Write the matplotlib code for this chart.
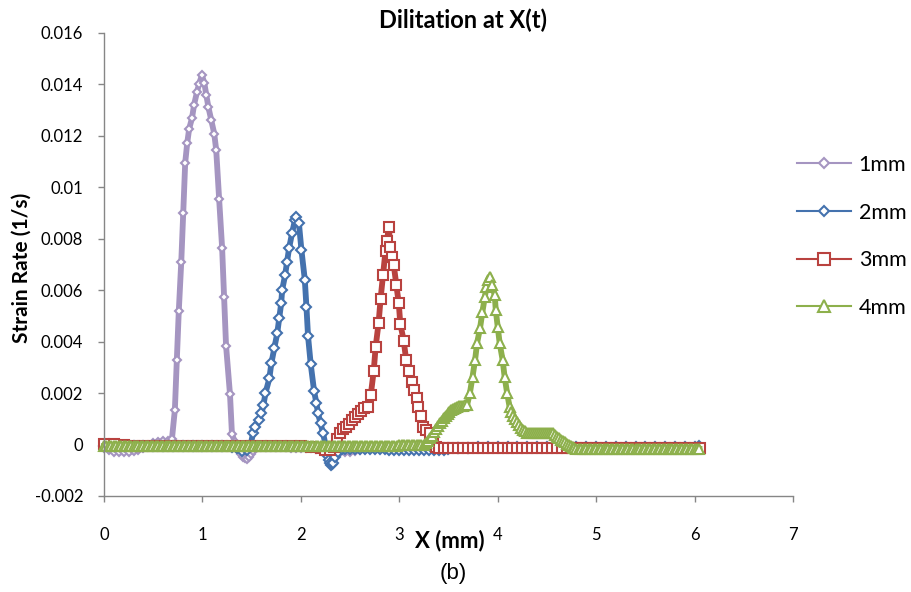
import matplotlib.pyplot as plt
from matplotlib.lines import Line2D
from matplotlib.ticker import MultipleLocator, FuncFormatter

plt.rcParams['font.family'] = ['Lato', 'DejaVu Sans']

# strain rate vs position for each grain size
x_1mm = [0.00, 0.05, 0.10, 0.15, 0.20, 0.25, 0.30, 0.35, 0.40, 0.45, 0.50, 0.55, 0.60, 0.65, 0.69,
         0.72, 0.74, 0.76, 0.785, 0.805, 0.825, 0.845, 0.865, 0.895, 0.915, 0.945, 0.965, 0.995,
         1.02, 1.04, 1.06, 1.09, 1.12, 1.14, 1.17, 1.20, 1.22, 1.24, 1.28, 1.30,
         1.33, 1.35, 1.37, 1.39, 1.41, 1.43, 1.45, 1.47, 1.49, 1.51, 1.53, 1.55,
         1.60, 1.65, 1.70, 1.75, 1.80, 1.85, 1.90, 1.95, 2.00, 2.05, 2.10, 2.15, 2.20, 2.25,
         2.30, 2.35, 2.40, 2.45, 2.50, 2.55, 2.60, 2.65, 2.70,
         2.8, 2.9, 3.0, 3.1, 3.2, 3.3, 3.4, 3.5, 3.6, 3.7, 3.8, 3.9, 4.0, 4.1, 4.2, 4.3, 4.4,
         4.5, 4.6, 4.7, 4.8, 4.9, 5.0, 5.1, 5.2, 5.3, 5.4, 5.5, 5.6, 5.7, 5.8, 5.9, 6.0, 6.05]
y_1mm = [-0.00012, -0.00022, -0.00028, -0.0003, -0.0003, -0.00029, -0.00026, -0.0002, -0.00012,
         -0.00004, 0.00004, 0.0001, 0.00012, 0.00012, 0.0002,
         0.00135, 0.0033, 0.0052, 0.0071, 0.009, 0.01095, 0.0117, 0.01226, 0.0127, 0.0132, 0.0137,
         0.0140, 0.01435,
         0.01403, 0.01357, 0.01312, 0.0126, 0.01208, 0.01144, 0.00952, 0.00764, 0.00574, 0.00384,
         0.00195, 0.0004,
         0.0001, -0.0001, -0.00025, -0.00038, -0.00047, -0.00053, -0.00055, -0.00048, -0.00036,
         -0.00024, -0.00015, -0.0001,
         -0.0001, -0.0001, -0.0001, -0.0001, -0.0001, -0.0001, -0.00012, -0.00012, -0.00014,
         -0.00014, -0.00015, -0.00016, -0.00018, -0.0002,
         -0.00022, -0.00025, -0.00028, -0.0003, -0.00028, -0.00024, -0.0002, -0.00016, -0.00012,
         -0.0001, -0.0001, -0.0001, -0.0001, -0.0001, -0.0001, -0.0001, -0.0001, -0.0001, -0.0001,
         -0.0001, -0.0001, -0.0001, -0.0001, -0.0001, -0.0001, -0.0001,
         -0.0001, -0.0001, -0.0001, -0.0001, -0.0001, -0.0001, -0.0001, -0.0001, -0.0001, -0.0001,
         -0.0001, -0.0001, -0.0001, -0.0001, -0.0001, -0.0001, -0.0001]

x_2mm = [0.0, 0.1, 0.2, 0.3, 0.4, 0.5, 0.6, 0.7, 0.8, 0.9, 1.0, 1.1, 1.2, 1.3,
         1.35, 1.40, 1.45, 1.49,
         1.514, 1.53, 1.575, 1.60, 1.62, 1.64, 1.68, 1.70, 1.73, 1.76, 1.78, 1.80, 1.81, 1.84,
         1.86, 1.88, 1.91, 1.94, 1.955, 1.98,
         2.006, 2.04, 2.057, 2.073, 2.10, 2.134, 2.158, 2.175, 2.20, 2.226, 2.25, 2.26, 2.27,
         2.28, 2.29, 2.30, 2.31, 2.32, 2.33, 2.35, 2.38, 2.42,
         2.45, 2.50, 2.55, 2.60, 2.65, 2.70, 2.75, 2.80, 2.85, 2.90, 2.95, 3.00, 3.05, 3.10,
         3.15, 3.20, 3.25, 3.30, 3.35, 3.40, 3.45, 3.50,
         3.6, 3.7, 3.8, 3.9, 4.0, 4.1, 4.2, 4.3, 4.4, 4.5, 4.6, 4.7, 4.8, 4.9, 5.0, 5.1, 5.2,
         5.3, 5.4, 5.5, 5.6, 5.7, 5.8, 5.9, 6.0, 6.05]
y_2mm = [-0.00005, -0.00005, -0.00005, -0.00005, -0.00005, -0.00005, -0.00005, -0.00005,
         -0.00005, -0.00005, -0.00005, -0.00005, -0.00005, -0.00008,
         -0.00015, -0.00025, -0.00022, 0.0,
         0.00043, 0.00069, 0.00095, 0.00121, 0.00153, 0.00199, 0.00257, 0.00315, 0.00374,
         0.00432, 0.0049, 0.00548, 0.006, 0.00658, 0.0071, 0.00762, 0.0082, 0.00872, 0.00885,
         0.00861,
         0.00755, 0.00641, 0.00533, 0.00421, 0.00313, 0.00209, 0.0016, 0.00121, 0.00082, 0.00043,
         0.0, -0.00015, -0.0003, -0.00045, -0.0006, -0.0007, -0.0008, -0.00075, -0.0007,
         -0.0005, -0.0003, -0.00018,
         -0.00018, -0.00018, -0.00018, -0.00018, -0.00018, -0.00018, -0.00018, -0.00019, -0.00019,
         -0.0002, -0.0002, -0.0002, -0.0002, -0.0002, -0.0002, -0.0002, -0.0002, -0.0002,
         -0.0002, -0.0002, -0.0002, -0.00018,
         -0.00015, -0.00012, -0.0001, -0.00008, -0.00008, -0.00008, -0.00008, -0.00008, -0.00008,
         -0.00008, -0.00008, -0.00008, -0.00008, -0.00008, -0.00008, -0.00008, -0.00008,
         -0.00008, -0.00008, -0.00008, -0.00008, -0.00008, -0.00008, -0.00008, -0.00008,
         -0.00007]

x_3mm = [0.0, 0.1, 0.2, 0.3, 0.4, 0.5, 0.6, 0.7, 0.8, 0.9, 1.0, 1.1, 1.2, 1.3, 1.4, 1.5, 1.6,
         1.7, 1.8, 1.9, 2.0, 2.1, 2.2, 2.25, 2.30, 2.34,
         2.37, 2.40, 2.43, 2.46, 2.49, 2.52, 2.55, 2.58, 2.61, 2.64, 2.68, 2.71, 2.74, 2.76,
         2.79, 2.81, 2.835, 2.86, 2.875, 2.893, 2.91, 2.93, 2.944, 2.97, 2.995, 3.01, 3.045,
         3.07, 3.10, 3.125, 3.15, 3.175, 3.19, 3.225, 3.24, 3.275, 3.31, 3.34, 3.37,
         3.40, 3.45, 3.50, 3.55, 3.60, 3.65, 3.70, 3.75, 3.80, 3.85, 3.90, 3.95, 4.00, 4.05,
         4.10, 4.15, 4.20, 4.25, 4.30, 4.35, 4.40, 4.45, 4.50, 4.55, 4.60, 4.65,
         4.70, 4.75, 4.80, 4.85, 4.90, 4.95, 5.00, 5.05, 5.10, 5.15, 5.20, 5.25, 5.30, 5.35,
         5.40, 5.45, 5.50, 5.55, 5.60, 5.65, 5.70, 5.75, 5.80, 5.85, 5.90, 5.95, 6.00, 6.06]
y_3mm = [0.00002, 0.00001, -0.00003, -0.00004, -0.00004, -0.00004, -0.00004, -0.00004, -0.00004,
         -0.00004, -0.00004, -0.00004, -0.00004, -0.00004, -0.00004, -0.00004, -0.00004, -0.00004,
         -0.00004, -0.00005, -0.00006, -0.0001, -0.00015, -0.0002, -0.0002, -0.0001,
         0.0002, 0.00045, 0.0006, 0.0007, 0.0008, 0.00095, 0.00108, 0.0012, 0.0013, 0.0014,
         0.00147, 0.00192, 0.00285, 0.0038, 0.00473, 0.00566, 0.00659, 0.00753, 0.0079,
         0.00846, 0.00768, 0.0073, 0.00697, 0.0062, 0.00548, 0.0047, 0.00403, 0.00328,
         0.00287, 0.00244, 0.00212, 0.00179, 0.00147, 0.00111, 0.00069, 0.00056, 0.00043,
         0.0001, -0.0001,
         -0.00015, -0.00015, -0.00015, -0.00015, -0.00015, -0.00015, -0.00015, -0.00015,
         -0.00015, -0.00015, -0.00015, -0.00015, -0.00015, -0.00015, -0.00015, -0.00015,
         -0.00015, -0.00015, -0.00015, -0.00015, -0.00015, -0.00015, -0.00015, -0.00015,
         -0.00015, -0.00014,
         -0.00014, -0.00014, -0.00014, -0.00014, -0.00014, -0.00014, -0.00014, -0.00014,
         -0.00014, -0.00014, -0.00014, -0.00014, -0.00014, -0.00014, -0.00014, -0.00014,
         -0.00014, -0.00014, -0.00014, -0.00014, -0.00014, -0.00014, -0.00014, -0.00014,
         -0.00014, -0.00014, -0.00014, -0.00014]

x_4mm = [0.000, 0.025, 0.050, 0.075, 0.100, 0.125, 0.150, 0.175, 0.200, 0.225,
         0.250, 0.275, 0.300, 0.325, 0.350, 0.375, 0.400, 0.425, 0.450, 0.475,
         0.500, 0.525, 0.550, 0.575, 0.600, 0.625, 0.650, 0.675, 0.700, 0.725,
         0.750, 0.775, 0.800, 0.825, 0.850, 0.875, 0.900, 0.925, 0.950, 0.975,
         1.000, 1.025, 1.050, 1.075, 1.100, 1.125, 1.150, 1.175, 1.200, 1.225,
         1.250, 1.275, 1.300, 1.325, 1.350, 1.375, 1.400, 1.425, 1.450, 1.475,
         1.500, 1.525, 1.550, 1.575, 1.600, 1.625, 1.650, 1.675, 1.700, 1.725,
         1.750, 1.775, 1.800, 1.825, 1.850, 1.875, 1.900, 1.925, 1.950, 1.975,
         2.000, 2.025, 2.050, 2.075, 2.100, 2.125, 2.150, 2.175, 2.200, 2.225,
         2.250, 2.275, 2.300, 2.325, 2.350, 2.375, 2.400, 2.425, 2.450, 2.475,
         2.500, 2.525, 2.550, 2.575, 2.600, 2.625, 2.650, 2.675, 2.700, 2.725,
         2.750, 2.775, 2.800, 2.825, 2.850, 2.875, 2.900, 2.925, 2.950, 2.975,
         3.000, 3.025, 3.050, 3.075, 3.100, 3.125, 3.150, 3.175, 3.200, 3.225,
         3.250, 3.27, 3.29, 3.31, 3.33, 3.35, 3.37, 3.39, 3.41, 3.43, 3.45, 3.47, 3.49,
         3.51, 3.53, 3.55, 3.57, 3.59, 3.61, 3.63, 3.65, 3.67, 3.69,
         3.717, 3.744, 3.77, 3.79, 3.82, 3.845, 3.87, 3.886, 3.90, 3.92, 3.94, 3.97, 3.98, 4.00,
         4.02, 4.05, 4.07, 4.096, 4.12, 4.14, 4.16, 4.18, 4.20, 4.22, 4.24, 4.26, 4.28, 4.30,
         4.32, 4.34, 4.36, 4.38, 4.40, 4.42, 4.44, 4.46, 4.48, 4.50, 4.52, 4.54, 4.56,
         4.58, 4.60, 4.62, 4.64, 4.66, 4.68, 4.70, 4.72, 4.74, 4.76, 4.78,
         4.800, 4.825, 4.850, 4.875, 4.900, 4.925, 4.950, 4.975, 5.000, 5.025,
         5.050, 5.075, 5.100, 5.125, 5.150, 5.175, 5.200, 5.225, 5.250, 5.275,
         5.300, 5.325, 5.350, 5.375, 5.400, 5.425, 5.450, 5.475, 5.500, 5.525,
         5.550, 5.575, 5.600, 5.625, 5.650, 5.675, 5.700, 5.725, 5.750, 5.775,
         5.800, 5.825, 5.850, 5.875, 5.900, 5.925, 5.950, 5.975, 6.000, 6.025, 6.050]
y_4mm = [-0.00006, -0.00006, -0.00006, -0.00006, -0.00006, -0.00006, -0.00006, -0.00006, -0.00006, -0.00006,
         -0.00006, -0.00006, -0.00006, -0.00006, -0.00006, -0.00006, -0.00006, -0.00006, -0.00006, -0.00006,
         -0.00006, -0.00006, -0.00006, -0.00006, -0.00006, -0.00006, -0.00006, -0.00006, -0.00006, -0.00006,
         -0.00006, -0.00006, -0.00006, -0.00006, -0.00006, -0.00006, -0.00006, -0.00006, -0.00006, -0.00006,
         -0.00006, -0.00006, -0.00006, -0.00006, -0.00006, -0.00006, -0.00006, -0.00006, -0.00006, -0.00006,
         -0.00006, -0.00006, -0.00006, -0.00006, -0.00006, -0.00006, -0.00006, -0.00006, -0.00006, -0.00006,
         -0.00006, -0.00006, -0.00006, -0.00006, -0.00006, -0.00006, -0.00006, -0.00006, -0.00006, -0.00006,
         -0.00006, -0.00006, -0.00006, -0.00006, -0.00006, -0.00006, -0.00006, -0.00006, -0.00006, -0.00006,
         -0.00005, -0.00005, -0.00005, -0.00005, -0.00005, -0.00005, -0.00005, -0.00005, -0.00005, -0.00005,
         -0.00005, -0.00005, -0.00005, -0.00005, -0.00005, -0.00005, -0.00005, -0.00005, -0.00005, -0.00005,
         -0.00005, -0.00005, -0.00005, -0.00005, -0.00005, -0.00005, -0.00005, -0.00005, -0.00005, -0.00005,
         -0.00004, -0.00004, -0.00004, -0.00004, -0.00004, -0.00004, -0.00004, -0.00004, -0.00004, -0.00004,
         -0.00002, -0.00002, -0.00002, -0.00002, -0.00002, -0.00002, -0.00002, -0.00002, -0.00002, -0.00001,
         0.0, 0.00005, 0.00015, 0.00025, 0.00035, 0.00047, 0.0006, 0.00072, 0.00082, 0.00092, 0.00102,
         0.00112, 0.0012,
         0.00127, 0.00133, 0.00138, 0.00142, 0.00146, 0.00148, 0.0015, 0.00151, 0.00153, 0.00155,
         0.00199, 0.00263, 0.00328, 0.00393, 0.00451, 0.00516, 0.00574, 0.00613, 0.0064,
         0.00652, 0.0062, 0.0058, 0.00522, 0.00457,
         0.00393, 0.00328, 0.00263, 0.00199, 0.00147, 0.00128, 0.00112, 0.00098, 0.00086, 0.00075,
         0.00066, 0.00058, 0.00051, 0.00046,
         0.00044, 0.00043, 0.00043, 0.00043, 0.00043, 0.00043, 0.00043, 0.00043, 0.00043, 0.00043,
         0.00043, 0.00043, 0.00043,
         0.00038, 0.00031, 0.00025, 0.00019, 0.00013, 0.00008, 0.00003, -0.00002, -0.00006, -0.0001,
         -0.00014,
         -0.00017, -0.00017, -0.00017, -0.00017, -0.00017, -0.00017, -0.00017, -0.00017, -0.00017, -0.00017,
         -0.00017, -0.00017, -0.00017, -0.00017, -0.00017, -0.00017, -0.00017, -0.00017, -0.00017, -0.00017,
         -0.00017, -0.00017, -0.00017, -0.00017, -0.00017, -0.00017, -0.00017, -0.00017, -0.00017, -0.00017,
         -0.00017, -0.00017, -0.00017, -0.00017, -0.00017, -0.00017, -0.00017, -0.00017, -0.00017, -0.00017,
         -0.00017, -0.00017, -0.00017, -0.00017, -0.00017, -0.00017, -0.00017, -0.00017, -0.00017, -0.00017,
         -0.00017]

series_labels = ['1mm', '2mm', '3mm', '4mm']
series_x = [x_1mm, x_2mm, x_3mm, x_4mm]
series_y = [y_1mm, y_2mm, y_3mm, y_4mm]
colors = ['#A595C1', '#4472AE', '#B9423F', '#8DB04C']
markers = ['D', 'D', 's', '^']
marker_sizes = [4.3, 4.6, 7.5, 7.3]
legend_marker_sizes = [5.5, 5.5, 8.0, 8.0]

fig = plt.figure(figsize=(9.12, 5.92), dpi=100)
ax = fig.add_axes([104 / 912, 1 - 496 / 592, (793 - 104) / 912, (496 - 32.7) / 592])

for lab, xs, ys, c, m, ms in zip(series_labels, series_x, series_y, colors, markers, marker_sizes):
    ax.plot(xs, ys, color=c, lw=4.2, marker=m, ms=ms, mfc='white', mec=c, mew=1.5,
            label=lab, solid_joinstyle='round', clip_on=False)

ax.set_xlim(0, 7)
ax.set_ylim(-0.002, 0.016)
ax.xaxis.set_major_locator(MultipleLocator(1))
ax.yaxis.set_major_locator(MultipleLocator(0.002))
ax.yaxis.set_major_formatter(FuncFormatter(lambda v, p: '{:g}'.format(round(v, 6))))

axis_grey = '#868686'
for side in ['top', 'right']:
    ax.spines[side].set_visible(False)
for side in ['left', 'bottom']:
    ax.spines[side].set_color(axis_grey)
    ax.spines[side].set_linewidth(1.0)
ax.tick_params(axis='y', direction='out', length=4, width=1.0, color=axis_grey,
               labelsize=12, pad=11)
ax.tick_params(axis='x', direction='out', length=4, width=1.0, color=axis_grey,
               labelsize=12, pad=18)

# legend with thin lines, sitting right of the plot
handles = [Line2D([], [], color=c, lw=1.5, marker=m, ms=ms, mfc='white', mec=c, mew=1.5)
           for c, m, ms in zip(colors, markers, legend_marker_sizes)]
fig.legend(handles, series_labels, loc='upper left', bbox_to_anchor=(797 / 912, 1 - 155 / 592),
           frameon=False, fontsize=15.5, handlelength=2.5, handletextpad=0.37,
           labelspacing=1.28, borderpad=0, borderaxespad=0)

fig.text(463 / 912, 1 - 20 / 592, 'Dilitation at X(t)', ha='center', va='center',
         fontsize=17, fontweight='bold')
fig.text(22 / 912, 1 - 268 / 592, 'Strain Rate (1/s)', ha='center', va='center',
         rotation=90, fontsize=15, fontweight='bold')
fig.text(450 / 912, 1 - 541 / 592, 'X (mm)', ha='center', va='center',
         fontsize=16, fontweight='bold')
fig.text(453 / 912, 1 - 574 / 592, '(b)', ha='center', va='center',
         fontsize=16, family=['Liberation Sans', 'DejaVu Sans'])

fig.savefig('out.png', dpi=100)
